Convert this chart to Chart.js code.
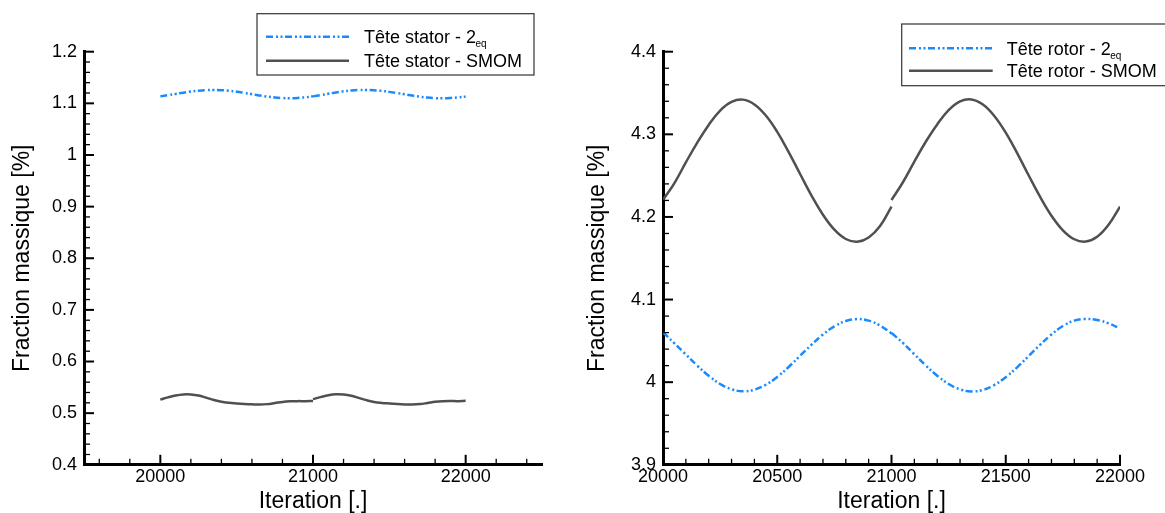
<!DOCTYPE html>
<html>
<head>
<meta charset="utf-8">
<script src="https://cdn.jsdelivr.net/npm/chart.js@4.4.1/dist/chart.umd.min.js"></script>
<style>
  html, body { margin: 0; padding: 0; background: #fff; }
  #wrap { position: relative; width: 1165px; height: 513px; overflow: hidden; }
  canvas { position: absolute; top: 0; }
  #stator { left: 0; }
  #rotor { left: 580px; }
</style>
</head>
<body>
<div id="wrap">
  <canvas id="stator" width="580" height="513"></canvas>
  <canvas id="rotor" width="585" height="513"></canvas>
</div>
<script>
// iterations, split in two runs (restart at 21000)
const iterA = [20000, 20050, 20100, 20150, 20200, 20250, 20300, 20350, 20400, 20450, 20500,
  20550, 20600, 20650, 20700, 20750, 20800, 20850, 20900, 20950, 21000];
const iterB = [21000, 21050, 21100, 21150, 21200, 21250, 21300, 21350, 21400, 21450, 21500,
  21550, 21600, 21650, 21700, 21750, 21800, 21850, 21900, 21950, 22000];

// Tête stator
const statorEqA = [1.1135, 1.1158, 1.1182, 1.1207, 1.1229, 1.1246, 1.1257, 1.1260, 1.1255, 1.1243, 1.1225,
  1.1202, 1.1178, 1.1153, 1.1131, 1.1114, 1.1103, 1.1100, 1.1105, 1.1117, 1.1135];
const statorEqB = [1.1135, 1.1160, 1.1185, 1.1210, 1.1232, 1.1248, 1.1258, 1.1260, 1.1254, 1.1241, 1.1222,
  1.1199, 1.1174, 1.1150, 1.1128, 1.1111, 1.1101, 1.1098, 1.1104, 1.1115, 1.1130];
const statorSmomA = [0.5265, 0.5305, 0.5342, 0.5363, 0.5362, 0.5342, 0.5300, 0.5255, 0.5220, 0.5200, 0.5188,
  0.5178, 0.5171, 0.5168, 0.5175, 0.5195, 0.5218, 0.5230, 0.5233, 0.5233, 0.5237];
const statorSmomB = [0.5272, 0.5310, 0.5345, 0.5364, 0.5360, 0.5338, 0.5296, 0.5252, 0.5218, 0.5199, 0.5187,
  0.5177, 0.5170, 0.5168, 0.5176, 0.5197, 0.5220, 0.5231, 0.5234, 0.5233, 0.5238];

// Tête rotor
const rotorEqA = [4.0605, 4.0470, 4.0335, 4.0200, 4.0077, 3.9978, 3.9914, 3.9890, 3.9909, 3.9969, 4.0063,
  4.0184, 4.0319, 4.0454, 4.0577, 4.0676, 4.0740, 4.0764, 4.0745, 4.0685, 4.0590];
const rotorEqB = [4.0595, 4.0475, 4.0338, 4.0202, 4.0078, 3.9978, 3.9913, 3.9888, 3.9906, 3.9966, 4.0060,
  4.0180, 4.0316, 4.0452, 4.0577, 4.0680, 4.0745, 4.0766, 4.0752, 4.0712, 4.0650];
const rotorSmomA = [4.2205, 4.2410, 4.2660, 4.2900, 4.3114, 4.3288, 4.3393, 4.3420, 4.3361, 4.3227, 4.3029,
  4.2784, 4.2520, 4.2259, 4.2027, 4.1846, 4.1733, 4.1700, 4.1752, 4.1890, 4.2125];
const rotorSmomB = [4.2205, 4.2420, 4.2670, 4.2910, 4.3120, 4.3292, 4.3398, 4.3422, 4.3360, 4.3222, 4.3020,
  4.2772, 4.2505, 4.2245, 4.2015, 4.1838, 4.1730, 4.1702, 4.1760, 4.1905, 4.2125];

// tick labels
const statorXTicks = [20000, 21000, 22000];
const statorYTicks = [0.4, 0.5, 0.6, 0.7, 0.8, 0.9, 1, 1.1, 1.2];
const rotorXTicks = [20000, 20500, 21000, 21500, 22000];
const rotorYTicks = [3.9, 4, 4.1, 4.2, 4.3, 4.4];

const statorLabels = ["Tête stator - 2", "Tête stator - SMOM"];
const rotorLabels = ["Tête rotor - 2", "Tête rotor - SMOM"];
const subLabels = ["eq", ""];

const BLUE = "#1a8aff";
const GRAY = "#505050";
const DASH = [7, 3, 2, 2.5, 2, 2.5];
const FONT = "'Liberation Sans', Arial, sans-serif";

Chart.defaults.color = "#000";
Chart.defaults.font.family = FONT;

function series(xs, ys, color, dash) {
  return {
    data: xs.map((x, i) => ({ x: x, y: ys[i] })),
    borderColor: color,
    borderWidth: 2.5,
    borderDash: dash,
    borderCapStyle: "butt",
    pointRadius: 0,
    tension: 0.4,
    fill: false,
  };
}

// tick marks pointing into the plot, minor + major
const innerTicks = {
  id: "innerTicks",
  afterDraw(chart, args, opts) {
    const { ctx, chartArea, scales } = chart;
    ctx.save();
    ctx.strokeStyle = "#000";
    const draw = (scale, step, major, horizontal) => {
      const first = Math.ceil(scale.min / step - 1e-6);
      for (let k = first; k * step <= scale.max + 1e-6; k++) {
        const v = k * step;
        const isMajor = Math.abs(v / major - Math.round(v / major)) < 1e-4;
        const len = isMajor ? 10 : 6;
        ctx.lineWidth = isMajor ? 2 : 1.3;
        const p = scale.getPixelForValue(v);
        ctx.beginPath();
        if (horizontal) {
          ctx.moveTo(p, chartArea.bottom);
          ctx.lineTo(p, chartArea.bottom - len);
        } else {
          ctx.moveTo(chartArea.left, p);
          ctx.lineTo(chartArea.left + len, p);
        }
        ctx.stroke();
      }
    };
    draw(scales.x, opts.xStep, opts.xMajor, true);
    draw(scales.y, opts.yStep, opts.yMajor, false);
    ctx.restore();
  },
};

// framed legend with subscript text
const boxLegend = {
  id: "boxLegend",
  afterDraw(chart, args, o) {
    const ctx = chart.ctx;
    ctx.save();
    ctx.lineWidth = 1.2;
    ctx.strokeStyle = "#333";
    ctx.strokeRect(o.x, o.y, o.w, o.h);
    o.labels.forEach((label, i) => {
      const y = o.rows[i];
      ctx.beginPath();
      ctx.setLineDash(i === 0 ? DASH : []);
      ctx.strokeStyle = i === 0 ? BLUE : GRAY;
      ctx.lineWidth = 2.5;
      ctx.moveTo(o.line0, y);
      ctx.lineTo(o.line1, y);
      ctx.stroke();
      ctx.setLineDash([]);
      ctx.fillStyle = "#000";
      ctx.textBaseline = "alphabetic";
      ctx.textAlign = "left";
      ctx.font = "18px " + FONT;
      ctx.fillText(label, o.textX, y + 6.5);
      if (subLabels[i]) {
        const w = ctx.measureText(label).width;
        ctx.font = "10px " + FONT;
        ctx.fillText(subLabels[i], o.textX + w - 0.5, y + 10.5);
      }
    });
    ctx.restore();
  },
};

function renderChart(id, d) {
  const context = document.querySelector(id).getContext("2d");
  return new Chart(context, {
    type: "line",
    data: {
      datasets: [
        series(iterA, d.eqA, BLUE, DASH),
        series(iterB, d.eqB, BLUE, DASH),
        series(iterA, d.smomA, GRAY, []),
        series(iterB, d.smomB, GRAY, []),
      ],
    },
    options: {
      responsive: false,
      animation: false,
      layout: { padding: { top: 51.7, right: d.padRight, left: 0, bottom: 0 } },
      plugins: {
        legend: { display: false },
        tooltip: { enabled: false },
        innerTicks: d.ticks,
        boxLegend: d.legend,
      },
      scales: {
        x: {
          type: "linear",
          min: d.xMin,
          max: d.xMax,
          afterBuildTicks: (s) => { s.ticks = d.xTicks.map((v) => ({ value: v })); },
          afterFit: (s) => { s.height = 48.2; },
          grid: { drawOnChartArea: false, drawTicks: false },
          border: { color: "#000", width: 3 },
          ticks: { font: { size: 18 }, padding: 1, maxRotation: 0, autoSkip: false, callback: (v) => String(v) },
          title: { display: true, text: "Iteration [.]", font: { size: 23, lineHeight: 1 }, padding: 0 },
        },
        y: {
          min: d.yMin,
          max: d.yMax,
          afterBuildTicks: (s) => { s.ticks = d.yTicks.map((v) => ({ value: v })); },
          afterFit: (s) => { s.width = d.yWidth; },
          grid: { drawOnChartArea: false, drawTicks: false },
          border: { color: "#000", width: 3 },
          ticks: { font: { size: 18 }, padding: 7, autoSkip: false, callback: (v) => String(v) },
          title: {
            display: true,
            text: "Fraction massique [%]",
            font: { size: 23, lineHeight: 1 },
            padding: { top: d.titlePad, bottom: 0 },
          },
        },
      },
    },
    plugins: [innerTicks, boxLegend],
  });
}

renderChart("#stator", {
  eqA: statorEqA, eqB: statorEqB, smomA: statorSmomA, smomB: statorSmomB,
  xMin: 19500, xMax: 22500, yMin: 0.4, yMax: 1.2,
  xTicks: statorXTicks, yTicks: statorYTicks,
  padRight: 38, yWidth: 84, titlePad: 11,
  ticks: { xStep: 200, xMajor: 1000, yStep: 0.02, yMajor: 0.1 },
  legend: { x: 257, y: 13.7, w: 277, h: 61.3, rows: [36.7, 60.7], line0: 266, line1: 349, textX: 364, labels: statorLabels },
});

renderChart("#rotor", {
  eqA: rotorEqA, eqB: rotorEqB, smomA: rotorSmomA, smomB: rotorSmomB,
  xMin: 20000, xMax: 22000, yMin: 3.9, yMax: 4.4,
  xTicks: rotorXTicks, yTicks: rotorYTicks,
  padRight: 45, yWidth: 83, titlePad: 6.5,
  ticks: { xStep: 100, xMajor: 500, yStep: 0.02, yMajor: 0.1 },
  legend: { x: 321.7, y: 24, w: 300, h: 61.7, rows: [48.3, 70.7], line0: 329, line1: 412.7, textX: 426.7, labels: rotorLabels },
});
</script>
</body>
</html>
